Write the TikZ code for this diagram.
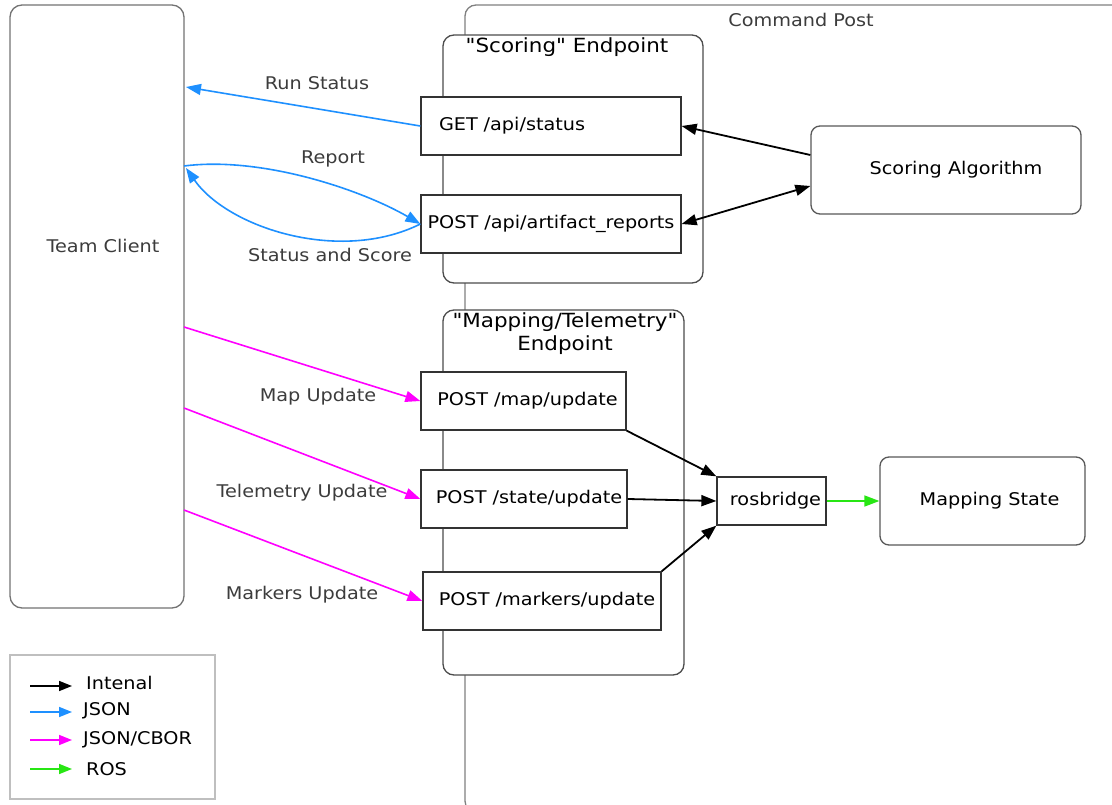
\documentclass[tikz,border=0pt]{standalone}
\usepackage{fontspec}
\setmainfont{DejaVu Sans}[FakeStretch=1.1, Ligatures=TeXOff]
\usetikzlibrary{arrows.meta,calc}
\definecolor{jblue}{RGB}{30,144,255}
\definecolor{jmag}{RGB}{255,0,255}
\definecolor{rgreen}{RGB}{40,230,20}
\definecolor{labgray}{RGB}{60,60,60}
\begin{document}
\begin{tikzpicture}[x=1pt,y=-1pt,
  every node/.style={font=\fontsize{17.5}{20}\selectfont},
  box/.style={draw=black!80, line width=1.3pt, fill=white, inner sep=0pt},
  rbox/.style={draw=black!65, line width=1.3pt, fill=white, inner sep=0pt, rounded corners=9pt},
  cont/.style={draw=black!70, line width=1.3pt, fill=white, inner sep=0pt, rounded corners=11pt},
  lab/.style={text=labgray},
  ttl/.style={font=\fontsize{19.5}{23}\selectfont, align=center},
  tip/.style={-{Triangle[length=15pt,width=11pt]}},
  tipboth/.style={{Triangle[length=15pt,width=11pt]}-{Triangle[length=15pt,width=11pt]}},
  blk/.style={draw=black, line width=1.8pt},
  bl/.style={draw=jblue, line width=1.6pt},
  mg/.style={draw=jmag, line width=1.6pt},
  gr/.style={draw=rgreen, line width=1.6pt},
  legtip/.style={-{Triangle[length=13pt,width=10pt]}}
]
\useasboundingbox (0,0) rectangle (1112,805);
% Command Post container
\begin{scope}
\clip (0,0) rectangle (1112,805);
\node[cont, draw=black!50, minimum width=680pt, minimum height=807pt] (cp) at (805,408.5) {};
\end{scope}
\node[lab] (cpt) at (801,20) {Command Post};

% Team Client
\node[rbox, draw=black!55, rounded corners=12pt, minimum width=174pt, minimum height=603pt] (tc) at (97,306.5) {};
\node[lab] (tct) at (103,246) {Team Client};

% Scoring endpoint container
\node[cont, minimum width=260pt, minimum height=248pt] (sce) at (573,159) {};
\node[ttl] (scet) at (567,47) {"Scoring" Endpoint};

% Mapping endpoint container
\node[cont, minimum width=241pt, minimum height=365pt] (mpe) at (563.5,492.5) {};
\node[ttl] (mpet) at (565,334) {"Mapping/Telemetry"\\Endpoint};

% Boxes
\node[box, minimum width=260pt, minimum height=58pt, text width=224pt, inner xsep=18pt, align=left] (get) at (551,126) {GET /api/status};
\node[box, minimum width=260pt, minimum height=58pt] (art) at (551,224) {POST /api/artifact\_reports};
\node[rbox, minimum width=270pt, minimum height=88pt] (sa) at (946,170) {\hspace{20pt}Scoring Algorithm};
\node[box, minimum width=205pt, minimum height=58pt] (map) at (523.5,401) {\hspace{8pt}POST /map/update};
\node[box, minimum width=206pt, minimum height=58pt] (state) at (524,499) {\hspace{10pt}POST /state/update};
\node[box, minimum width=238pt, minimum height=58pt] (mark) at (542,601) {\hspace{10pt}POST /markers/update};
\node[box, minimum width=109pt, minimum height=48pt] (ros) at (771.5,501) {\hspace{8pt}rosbridge};
\node[rbox, minimum width=205pt, minimum height=88pt] (ms) at (982.5,501) {\hspace{14pt}Mapping State};

% Team client attachment points
\coordinate (tcRS) at (186,87);
\coordinate (tcR) at (184,166);
\coordinate (tcS) at (186,168);
\coordinate (tcM1) at (184,327);
\coordinate (tcM2) at (184,408);
\coordinate (tcM3) at (184,510);

% JSON connectors
\draw[bl, tip] (get.west) -- (tcRS);
\draw[bl, tip] (tcR) .. controls (262,156) and (362,190) .. (art.west);
\draw[bl, tip] (art.west) .. controls (340,264) and (228,228) .. (tcS);
\node[lab] (lrs) at (317,83) {Run Status};
\node[lab] (lrp) at (333,159) {Report};
\node[lab] (lss) at (330,255) {Status and Score};

% Internal connectors
\draw[blk, tip] ($(sa.west)+(0,-15)$) -- (get.east);
\draw[blk, tipboth] (art.east) -- ($(sa.west)+(0,16)$);
\draw[blk, tip] (map.south east) -- (ros.north west);
\draw[blk, tip] (state.east) -- (ros.west);
\draw[blk, tip] (mark.north east) -- (ros.south west);

% JSON/CBOR connectors
\draw[mg, tip] (tcM1) -- (map.west);
\draw[mg, tip] (tcM2) -- (state.west);
\draw[mg, tip] (tcM3) -- (mark.west);
\node[lab] (lmu) at (318,397) {Map Update};
\node[lab] (ltu) at (302,493) {Telemetry Update};
\node[lab] (lku) at (302,595) {Markers Update};

% ROS connector
\draw[gr, tip] (ros.east) -- (ms.west);

% Legend
\node[draw=black!25, line width=1.2pt, fill=white, minimum width=205pt, minimum height=144pt, inner sep=0pt] (leg) at (112.5,727) {};
\coordinate (la1) at (30,686); \coordinate (lb1) at (72,686);
\coordinate (la2) at (30,712); \coordinate (lb2) at (72,712);
\coordinate (la3) at (30,740); \coordinate (lb3) at (72,740);
\coordinate (la4) at (30,769); \coordinate (lb4) at (72,769);
\draw[draw=black, line width=1.6pt, legtip] (la1) -- (lb1);
\draw[draw=jblue, line width=1.6pt, legtip] (la2) -- (lb2);
\draw[draw=jmag, line width=1.6pt, legtip] (la3) -- (lb3);
\draw[draw=rgreen, line width=1.6pt, legtip] (la4) -- (lb4);
\node[anchor=west, inner sep=0pt] (lt1) at (86,683) {Intenal};
\node[anchor=west, inner sep=0pt] (lt2) at (83,711) {JSON};
\node[anchor=west, inner sep=0pt] (lt3) at (83,740) {JSON/CBOR};
\node[anchor=west, inner sep=0pt] (lt4) at (86,769) {ROS};
\end{tikzpicture}
\end{document}
